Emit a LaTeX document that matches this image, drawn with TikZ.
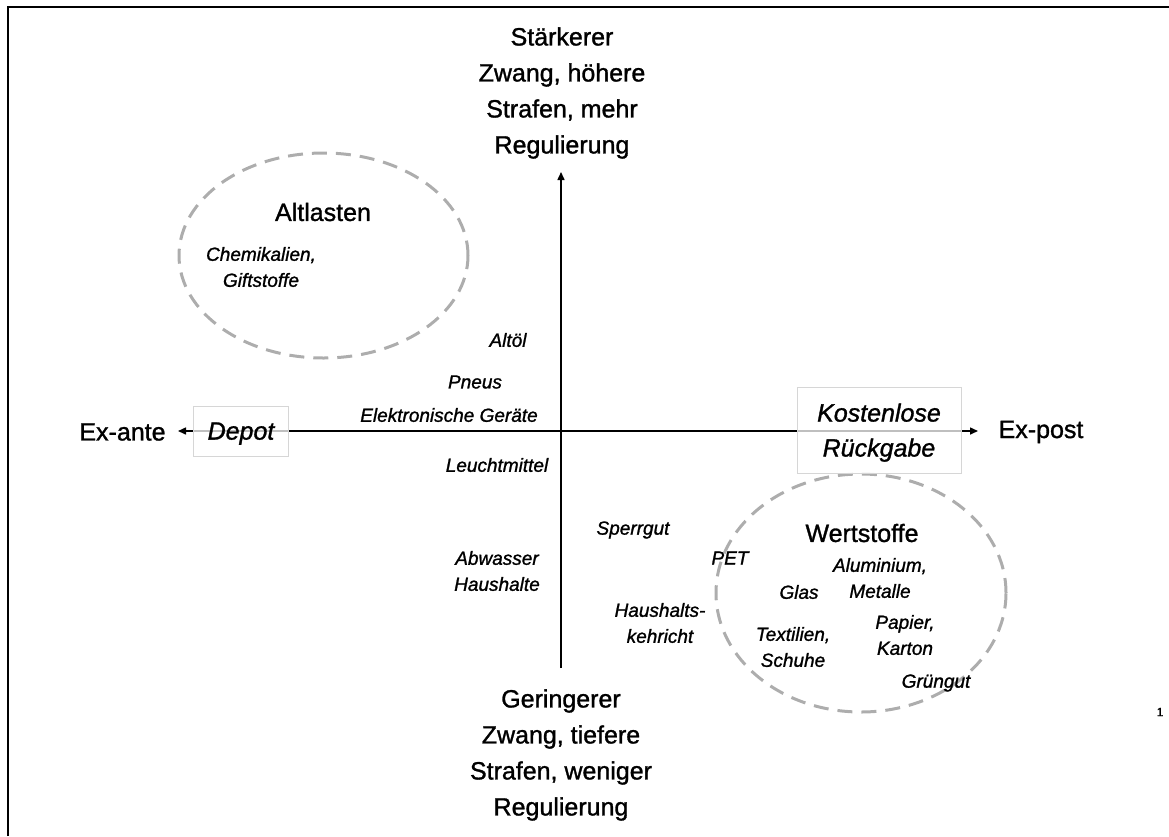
\documentclass[tikz,border=0pt]{standalone}
\usepackage{fontspec}
\setmainfont{Liberation Sans}[FakeBold=1.2]
\usetikzlibrary{arrows.meta,shapes.geometric}
\begin{document}
\begin{tikzpicture}[x=1pt,y=-1pt,
  >={Triangle[length=8pt,width=7pt]},
  big/.style={font=\fontsize{25}{36}\selectfont, align=center, inner sep=0pt},
  title/.style={font=\fontsize{25}{30}\selectfont, inner sep=0pt},
  item/.style={font=\fontsize{19}{26}\selectfont\itshape, align=center, inner sep=0pt},
  boxitem/.style={font=\fontsize{25}{35}\selectfont\itshape, align=center, inner sep=0pt, text depth=0pt,
    draw=black!16, line width=1pt, fill=white, fill opacity=0.75, text opacity=1},
  ring/.style={ellipse, draw=black!32, line width=3pt, dash pattern=on 15pt off 9pt, inner sep=0pt},
  axis/.style={line width=1.5pt, black}
]
\useasboundingbox (0,0) rectangle (1169,836);
% frame
\draw[line width=2pt] (8,836) -- (8,7) -- (1169,7);

% rings
\node[ring, minimum width=289pt, minimum height=205pt] (altring) at (323.5,255.5) {};
\node[ring, minimum width=290pt, minimum height=238pt] (wertring) at (861,593) {};

% axes
\coordinate (tipL) at (178,431);
\coordinate (tipR) at (978,431);
\coordinate (vbot) at (561,668);
\coordinate (vtop) at (561,172);
\draw[axis, <->] (tipL) -- (tipR);
\draw[axis, ->] (vbot) -- (vtop);

% boxes on the horizontal axis
\node[boxitem, minimum width=95pt, minimum height=50pt] (depot) at (241,431) {Depot};
\node[boxitem, minimum width=164pt, minimum height=86pt] (gratis) at (879,430) {Kostenlose\\Rückgabe};

% axis labels
\node[big] (top) at (562,93) {Stärkerer\\Zwang, höhere\\Strafen, mehr\\Regulierung};
\node[big] (bottom) at (561,755) {Geringerer\\Zwang, tiefere\\Strafen, weniger\\Regulierung};
\node[title] (exante) at (122.5,432) {Ex-ante};
\node[title] (expost) at (1041,432) {Ex-post};

% group titles
\node[title] (altlasten) at (323,212) {Altlasten};
\node[title] (wertstoffe) at (862,533) {Wertstoffe};

% items
\node[item] (chem) at (261,267) {Chemikalien,\\Giftstoffe};
\node[item] (altoel) at (508,340) {Altöl};
\node[item] (pneus) at (475,382) {Pneus};
\node[item] (elektro) at (449,415) {Elektronische Geräte};
\node[item] (leucht) at (497,465) {Leuchtmittel};
\node[item] (abwasser) at (497,571) {Abwasser\\Haushalte};
\node[item] (sperr) at (633,530) {Sperrgut};
\node[item] (kehricht) at (660,623) {Haushalts-\\kehricht};
\node[item] (pet) at (730,558) {PET};
\node[item] (alu) at (880,578) {Aluminium,\\Metalle};
\node[item] (glas) at (799,592) {Glas};
\node[item] (papier) at (905,635) {Papier,\\Karton};
\node[item] (textil) at (793,647) {Textilien,\\Schuhe};
\node[item] (gruen) at (936,683) {Grüngut};

% page number
\node[font=\fontsize{12}{14}\selectfont, inner sep=0pt] (pagenum) at (1160,712) {1};
\end{tikzpicture}
\end{document}
